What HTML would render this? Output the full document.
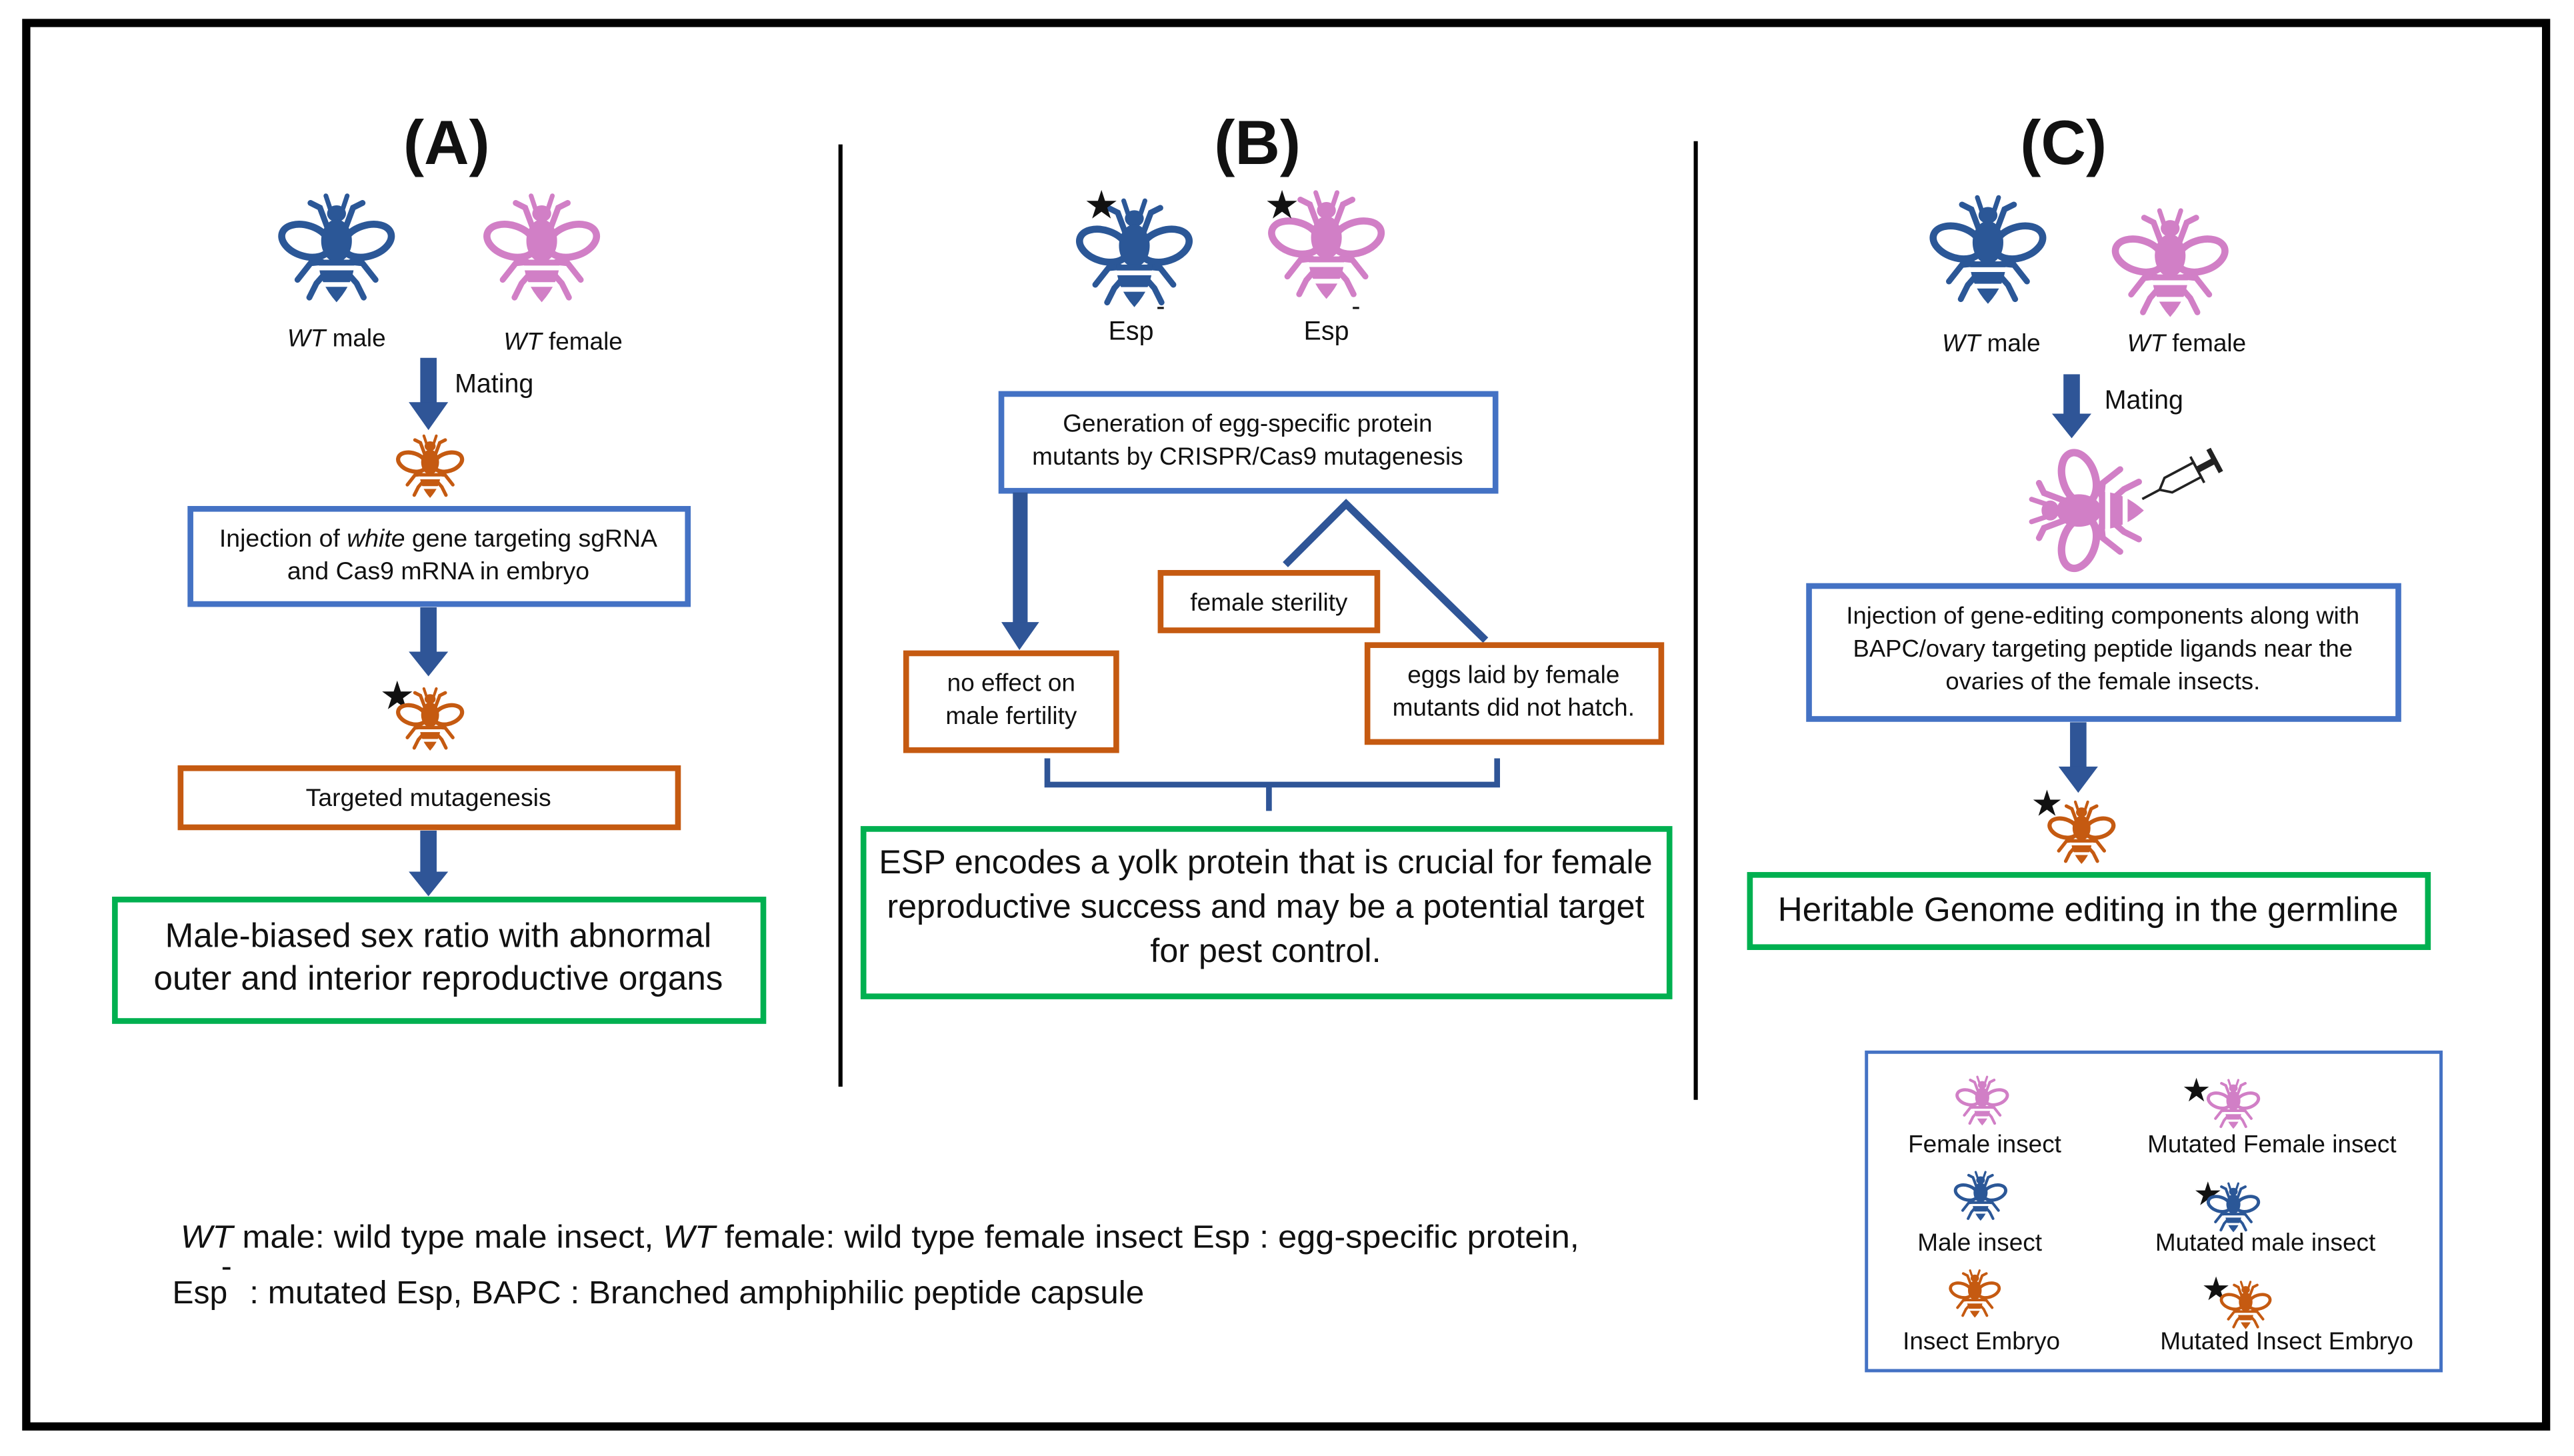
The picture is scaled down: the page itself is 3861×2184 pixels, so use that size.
<!DOCTYPE html>
<html><head><meta charset="utf-8"><style>
html,body{margin:0;padding:0;background:#fff}
svg{display:block}
text{font-family:"Liberation Sans",sans-serif;fill:#111}
</style></head><body>
<svg width="3861" height="2184" viewBox="0 0 1568 887" preserveAspectRatio="none" xmlns="http://www.w3.org/2000/svg">
<defs>
<symbol id="bee" viewBox="-50 -50 100 100" overflow="visible">
 <g fill="none" stroke="currentColor" stroke-linecap="round">
  <ellipse cx="-26" cy="-6" rx="21" ry="13" transform="rotate(18 -26 -6)" stroke-width="6" fill="#fff"/>
  <ellipse cx="26" cy="-6" rx="21" ry="13" transform="rotate(-18 26 -6)" stroke-width="6" fill="#fff"/>
  <path d="M-5,-32 L-9,-44 M5,-32 L9,-44" stroke-width="4"/>
  <path d="M-8,-18 L-14,-34 L-22,-38 M8,-18 L14,-34 L22,-38" stroke-width="5"/>
  <path d="M-12,12 L-22,13 L-33,27 M12,12 L22,13 L33,27" stroke-width="5"/>
  <path d="M-10,22 L-17,30 L-23,42 M10,22 L17,30 L23,42" stroke-width="5"/>
 </g>
 <g fill="currentColor">
  <ellipse cx="0" cy="-29" rx="8" ry="7"/>
  <ellipse cx="0" cy="-6" rx="13" ry="18"/>
  <path d="M-15,10 Q-16,28 0,46 Q16,28 15,10 Z"/>
 </g>
 <path d="M-15,17 L15,17 M-12,31 L12,31" stroke="#fff" stroke-width="4"/>
</symbol>
</defs>
<rect x="16" y="14" width="1535" height="855" fill="none" stroke="#000" stroke-width="5"/>
<line x1="512" y1="88" x2="512" y2="662" stroke="#000" stroke-width="2.5"/>
<line x1="1033" y1="86" x2="1033" y2="670" stroke="#000" stroke-width="2.5"/>

<!-- A -->
<text x="272" y="100" font-size="38" font-weight="bold" text-anchor="middle">(A)</text>
<use href="#bee" x="169" y="115" width="72" height="72" style="color:#2b5797"/>
<use href="#bee" x="294" y="115" width="72" height="72" style="color:#d17fc6"/>
<text x="205" y="211" font-size="15" text-anchor="middle"><tspan font-style="italic">WT</tspan> male</text>
<text x="343" y="213" font-size="15" text-anchor="middle"><tspan font-style="italic">WT</tspan> female</text>
<rect x="256" y="218" width="10" height="28" fill="#2f5597"/><polygon points="249,245 273,245 261,262" fill="#2f5597"/>
<text x="277" y="239" font-size="16">Mating</text>
<use href="#bee" x="241" y="263" width="42" height="42" style="color:#c55a11"/>
<rect x="116" y="310" width="303" height="58" fill="#fff" stroke="#4472c4" stroke-width="3.5"/>
<text x="267" y="333" font-size="15.2" text-anchor="middle">Injection of <tspan font-style="italic">white</tspan> gene targeting sgRNA</text>
<text x="267" y="353" font-size="15.2" text-anchor="middle">and Cas9 mRNA in embryo</text>
<rect x="256" y="370" width="10" height="28" fill="#2f5597"/><polygon points="249,397 273,397 261,412" fill="#2f5597"/>
<text x="242" y="432" font-size="24" text-anchor="middle">★</text>
<use href="#bee" x="241" y="417" width="42" height="42" style="color:#c55a11"/>
<rect x="110" y="468" width="303" height="36" fill="#fff" stroke="#c55a11" stroke-width="3.5"/>
<text x="261" y="491" font-size="15.2" text-anchor="middle">Targeted mutagenesis</text>
<rect x="256" y="506" width="10" height="26" fill="#2f5597"/><polygon points="249,531 273,531 261,546" fill="#2f5597"/>
<rect x="70" y="548" width="395" height="74" fill="#fff" stroke="#00b050" stroke-width="3.5"/>
<text x="267" y="577" font-size="20.8" text-anchor="middle">Male-biased sex ratio with abnormal</text>
<text x="267" y="603" font-size="20.8" text-anchor="middle">outer and interior reproductive organs</text>

<!-- B -->
<text x="766" y="100" font-size="38" font-weight="bold" text-anchor="middle">(B)</text>
<use href="#bee" x="655" y="118" width="72" height="72" style="color:#2b5797"/>
<text x="671" y="133" font-size="24" text-anchor="middle">★</text>
<use href="#bee" x="772" y="113" width="72" height="72" style="color:#d17fc6"/>
<text x="781" y="133" font-size="24" text-anchor="middle">★</text>
<text x="689" y="207" font-size="16" text-anchor="middle">Esp</text><text x="707" y="192" font-size="16" text-anchor="middle">-</text>
<text x="808" y="207" font-size="16" text-anchor="middle">Esp</text><text x="826" y="192" font-size="16" text-anchor="middle">-</text>
<rect x="610" y="240" width="301" height="59" fill="#fff" stroke="#4472c4" stroke-width="3.5"/>
<text x="760" y="263" font-size="15" text-anchor="middle">Generation of egg-specific protein</text>
<text x="760" y="283" font-size="15" text-anchor="middle">mutants by CRISPR/Cas9 mutagenesis</text>
<rect x="617" y="300" width="9" height="80" fill="#2f5597"/><polygon points="610,379 633,379 621,396" fill="#2f5597"/>
<polyline points="783,344 820,307 905,390" fill="none" stroke="#2f5597" stroke-width="4.5"/>
<rect x="707" y="349" width="132" height="35" fill="#fff" stroke="#c55a11" stroke-width="3.5"/>
<text x="773" y="372" font-size="15" text-anchor="middle">female sterility</text>
<rect x="552" y="398" width="128" height="59" fill="#fff" stroke="#c55a11" stroke-width="3.5"/>
<text x="616" y="421" font-size="15" text-anchor="middle">no effect on</text>
<text x="616" y="441" font-size="15" text-anchor="middle">male fertility</text>
<rect x="833" y="393" width="179" height="59" fill="#fff" stroke="#c55a11" stroke-width="3.5"/>
<text x="922" y="416" font-size="15" text-anchor="middle">eggs laid by female</text>
<text x="922" y="436" font-size="15" text-anchor="middle">mutants did not hatch.</text>
<path d="M638,462 L638,478 L912,478 L912,462 M773,478 L773,494" fill="none" stroke="#2f5597" stroke-width="3.5"/>
<rect x="526" y="505" width="491" height="102" fill="#fff" stroke="#00b050" stroke-width="3.5"/>
<text x="771" y="532" font-size="20.4" text-anchor="middle">ESP encodes a yolk protein that is crucial for female</text>
<text x="771" y="559" font-size="20.4" text-anchor="middle">reproductive success and may be a potential target</text>
<text x="771" y="586" font-size="20.4" text-anchor="middle">for pest control.</text>

<!-- C -->
<text x="1257" y="100" font-size="38" font-weight="bold" text-anchor="middle">(C)</text>
<use href="#bee" x="1175" y="116" width="72" height="72" style="color:#2b5797"/>
<use href="#bee" x="1286" y="124" width="72" height="72" style="color:#d17fc6"/>
<text x="1213" y="214" font-size="15" text-anchor="middle"><tspan font-style="italic">WT</tspan> male</text>
<text x="1332" y="214" font-size="15" text-anchor="middle"><tspan font-style="italic">WT</tspan> female</text>
<rect x="1257" y="228" width="10" height="25" fill="#2f5597"/><polygon points="1250,252 1274,252 1262,267" fill="#2f5597"/>
<text x="1282" y="249" font-size="16">Mating</text>
<g transform="translate(1271,311) rotate(-90)"><use href="#bee" x="-38" y="-38" width="76" height="76" style="color:#d17fc6"/></g>
<g transform="translate(1305,304) rotate(-28)" fill="#fff" stroke="#222" stroke-width="1.5">
 <line x1="0" y1="0" x2="12" y2="0"/>
 <path d="M12,0 L18,-5 L38,-5 L38,5 L18,5 Z"/>
 <line x1="38" y1="-9" x2="38" y2="9"/>
 <line x1="38" y1="0" x2="50" y2="0" stroke-width="4"/>
 <line x1="50" y1="-8" x2="50" y2="8" stroke-width="3"/>
</g>
<rect x="1102" y="357" width="359" height="81" fill="#fff" stroke="#4472c4" stroke-width="3.5"/>
<text x="1281" y="380" font-size="14.8" text-anchor="middle">Injection of gene-editing components along with</text>
<text x="1281" y="400" font-size="14.8" text-anchor="middle">BAPC/ovary targeting peptide ligands near the</text>
<text x="1281" y="420" font-size="14.8" text-anchor="middle">ovaries of the female insects.</text>
<rect x="1261" y="440" width="10" height="28" fill="#2f5597"/><polygon points="1254,467 1278,467 1266,483" fill="#2f5597"/>
<text x="1247" y="497" font-size="22" text-anchor="middle">★</text>
<use href="#bee" x="1247" y="486" width="42" height="42" style="color:#c55a11"/>
<rect x="1066" y="533" width="413" height="44" fill="#fff" stroke="#00b050" stroke-width="3.5"/>
<text x="1272" y="561" font-size="20.8" text-anchor="middle">Heritable Genome editing in the germline</text>

<!-- legend -->
<rect x="1137" y="641" width="350" height="194" fill="#fff" stroke="#4472c4" stroke-width="2"/>
<use href="#bee" x="1191" y="654" width="33" height="33" style="color:#d17fc6"/>
<text x="1209" y="702" font-size="15" text-anchor="middle">Female insect</text>
<text x="1338" y="671" font-size="20" text-anchor="middle">★</text>
<use href="#bee" x="1344" y="656" width="33" height="33" style="color:#d17fc6"/>
<text x="1384" y="702" font-size="15" text-anchor="middle">Mutated Female insect</text>
<use href="#bee" x="1190" y="712" width="33" height="33" style="color:#2b5797"/>
<text x="1206" y="762" font-size="15" text-anchor="middle">Male insect</text>
<text x="1345" y="734" font-size="20" text-anchor="middle">★</text>
<use href="#bee" x="1344" y="719" width="33" height="33" style="color:#2b5797"/>
<text x="1380" y="762" font-size="15" text-anchor="middle">Mutated male insect</text>
<use href="#bee" x="1187" y="772" width="32" height="32" style="color:#c55a11"/>
<text x="1207" y="822" font-size="15" text-anchor="middle">Insect Embryo</text>
<text x="1350" y="792" font-size="20" text-anchor="middle">★</text>
<use href="#bee" x="1352" y="779" width="32" height="32" style="color:#c55a11"/>
<text x="1393" y="822" font-size="15" text-anchor="middle">Mutated Insect Embryo</text>

<!-- footnote -->
<text x="110" y="760" font-size="19.5" textLength="852" lengthAdjust="spacingAndGlyphs"><tspan font-style="italic">WT</tspan> male: wild type male insect, <tspan font-style="italic">WT</tspan> female: wild type female insect Esp : egg-specific protein,</text>
<text x="105" y="794" font-size="19.5">Esp</text>
<text x="138" y="778" font-size="19.5" text-anchor="middle">-</text>
<text x="152" y="794" font-size="19.5" textLength="545" lengthAdjust="spacingAndGlyphs">: mutated Esp, BAPC : Branched amphiphilic peptide capsule</text>
</svg>
</body></html>
